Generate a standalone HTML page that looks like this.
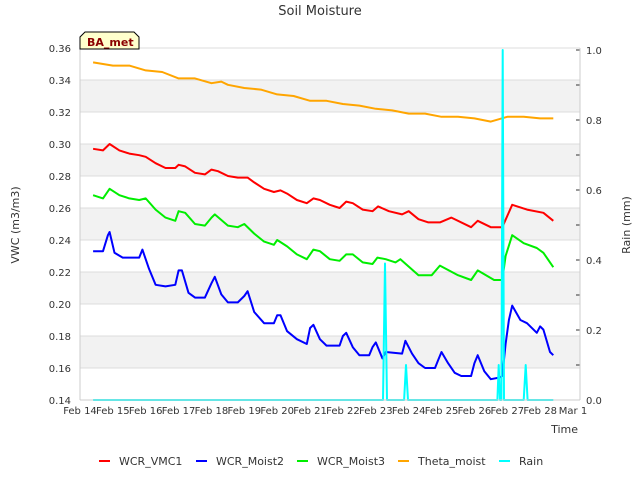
<!DOCTYPE html>
<html><head><meta charset="utf-8"><style>
body{margin:0;background:#fff;font-family:"DejaVu Sans","Liberation Sans",sans-serif;}
svg text{font-family:"DejaVu Sans","Liberation Sans",sans-serif;}
</style></head><body>
<svg id="chart" width="640" height="480" xmlns="http://www.w3.org/2000/svg">
<rect width="640" height="480" fill="#fff"/>
<g id="bands"></g><g id="grid"></g>
<g id="series"></g>
<g id="axes"></g>
<text x="320" y="15" text-anchor="middle" font-size="13" fill="#333">Soil Moisture</text>
<text transform="translate(19,225) rotate(-90)" text-anchor="middle" font-size="11" fill="#333">VWC (m3/m3)</text>
<text transform="translate(630,225) rotate(-90)" text-anchor="middle" font-size="11" fill="#333">Rain (mm)</text>
<text x="578" y="433" text-anchor="end" font-size="11" fill="#333">Time</text>
<g>
<path d="M80,49 L80,37 L85,32 L134,32 L139,37 L139,49 Z" fill="#ffffcc" stroke="#000" stroke-width="1"/>
<text x="87" y="46" font-size="11" font-weight="bold" fill="#8b0000">BA_met</text>
</g>
<g id="legend"></g>
</svg>
<script>
const NS="http://www.w3.org/2000/svg";
const xTickLabels=["Feb 14","Feb 15","Feb 16","Feb 17","Feb 18","Feb 19","Feb 20","Feb 21","Feb 22","Feb 23","Feb 24","Feb 25","Feb 26","Feb 27","Feb 28","Mar 1"];
const yTicks=[0.14,0.16,0.18,0.20,0.22,0.24,0.26,0.28,0.30,0.32,0.34,0.36];
const y2Ticks=[0,0.1,0.2,0.3,0.4,0.5,0.6,0.7,0.8,0.9,1.0];
const thetaT=[14.4,15,15.5,16,16.5,17,17.5,18,18.3,18.5,19,19.5,20,20.5,21,21.5,22,22.5,23,23.5,24,24.5,25,25.5,26,26.5,27,27.5,28,28.4];
const thetaV=[0.351,0.349,0.349,0.346,0.345,0.341,0.341,0.338,0.339,0.337,0.335,0.334,0.331,0.330,0.327,0.327,0.325,0.324,0.322,0.321,0.319,0.319,0.317,0.317,0.316,0.314,0.317,0.317,0.316,0.316];
const vmcT=[14.4,14.7,14.9,15.2,15.5,15.8,16,16.3,16.6,16.9,17.0,17.2,17.5,17.8,18.0,18.2,18.5,18.8,19.1,19.3,19.6,19.9,20.1,20.3,20.6,20.9,21.1,21.3,21.6,21.9,22.1,22.3,22.6,22.9,23.07,23.4,23.8,24.0,24.3,24.6,24.95,25.3,25.9,26.1,26.5,26.85,27.15,27.6,28.1,28.4];
const vmcV=[0.297,0.296,0.300,0.296,0.294,0.293,0.292,0.288,0.285,0.285,0.287,0.286,0.282,0.281,0.284,0.283,0.280,0.279,0.279,0.276,0.272,0.270,0.271,0.269,0.265,0.263,0.266,0.265,0.262,0.260,0.264,0.263,0.259,0.258,0.261,0.258,0.256,0.258,0.253,0.251,0.251,0.254,0.248,0.252,0.248,0.248,0.262,0.259,0.257,0.252];
const m3T=[14.4,14.7,14.9,15.2,15.5,15.8,16.0,16.3,16.6,16.9,17.0,17.2,17.5,17.8,18.0,18.1,18.5,18.8,19.0,19.3,19.6,19.9,20.0,20.3,20.6,20.9,21.1,21.3,21.6,21.9,22.1,22.3,22.6,22.9,23.05,23.3,23.6,23.75,24.3,24.7,24.95,25.5,25.9,26.1,26.6,26.85,26.95,27.15,27.5,27.9,28.1,28.4];
const m3V=[0.268,0.266,0.272,0.268,0.266,0.265,0.266,0.259,0.254,0.252,0.258,0.257,0.250,0.249,0.254,0.256,0.249,0.248,0.250,0.244,0.239,0.237,0.240,0.236,0.231,0.228,0.234,0.233,0.228,0.227,0.231,0.231,0.226,0.225,0.229,0.228,0.226,0.228,0.218,0.218,0.224,0.218,0.215,0.221,0.215,0.215,0.230,0.243,0.238,0.235,0.232,0.223];
const m2T=[14.4,14.7,14.85,14.9,15.05,15.3,15.6,15.8,15.9,16.1,16.3,16.6,16.9,17.0,17.1,17.3,17.5,17.8,18.0,18.1,18.3,18.5,18.8,19.0,19.1,19.3,19.6,19.9,20.0,20.1,20.3,20.6,20.9,21.0,21.1,21.3,21.5,21.9,22.0,22.1,22.3,22.5,22.8,22.9,23.0,23.2,23.3,23.8,23.9,24.1,24.3,24.5,24.8,24.9,25.0,25.2,25.4,25.6,25.9,26.0,26.1,26.3,26.5,26.75,26.85,26.95,27.05,27.15,27.4,27.6,27.9,28.0,28.1,28.3,28.4];
const m2V=[0.233,0.233,0.243,0.245,0.232,0.229,0.229,0.229,0.234,0.222,0.212,0.211,0.212,0.221,0.221,0.207,0.204,0.204,0.213,0.217,0.206,0.201,0.201,0.205,0.208,0.195,0.188,0.188,0.193,0.193,0.183,0.178,0.175,0.185,0.187,0.178,0.174,0.174,0.180,0.182,0.173,0.168,0.168,0.173,0.176,0.166,0.170,0.169,0.177,0.169,0.163,0.160,0.160,0.165,0.170,0.163,0.157,0.155,0.155,0.163,0.168,0.158,0.153,0.154,0.155,0.175,0.190,0.199,0.190,0.188,0.182,0.186,0.184,0.170,0.168];
const rainT=[14.4,23.22,23.28,23.34,23.86,23.92,23.98,26.70,26.74,26.78,26.82,26.86,26.90,26.94,27.50,27.56,27.62,28.4];
const rainV=[0,0,0.39,0,0,0.1,0,0,0.1,0,0,1.0,0,0,0,0.1,0,0];

const L=80,R=580,T=48,B=400;
const X=d=>L+(d-14)*(493/15);
const Y=v=>B-(v-0.14)*(B-T)/0.22;
const Y2=v=>B-v*(B-50);
const $=id=>document.getElementById(id);
function mk(tag,attrs,parent){const e=document.createElementNS(NS,tag);for(const k in attrs)e.setAttribute(k,attrs[k]);parent.appendChild(e);return e;}
// bands & grid
for(let i=0;i<yTicks.length-1;i++){
  if(i%2===1){const r=mk('rect',{x:L,y:Y(yTicks[i+1]),width:R-L,height:Y(yTicks[i])-Y(yTicks[i+1]),fill:'#f2f2f2'},$('bands'));
  
  }
}
yTicks.forEach(v=>{const l=mk('line',{x1:L,x2:R,y1:Y(v),y2:Y(v),stroke:'#dcdcdc','stroke-width':1},$('grid'));


const t=mk('text',{x:L-9,y:Y(v)+4,'text-anchor':'end','font-size':10,fill:'#333'},$('axes'));t.textContent=v.toFixed(2);

});
y2Ticks.forEach((v,i)=>{mk('line',{x1:R,x2:R-4,y1:Y2(v),y2:Y2(v),stroke:'#333'},$('axes'));
if(i%2===0){const t=mk('text',{x:R+6,y:Y2(v)+4,'font-size':10,fill:'#333'},$('axes'));t.textContent=v.toFixed(1);

}});
xTickLabels.forEach((s,i)=>{const t=mk('text',{x:X(14+i),y:414,'text-anchor':'middle','font-size':10,fill:'#333'},$('axes'));t.textContent=s;

});
mk('line',{x1:L,x2:L,y1:T,y2:B,stroke:'#ccc'},$('axes'));
mk('line',{x1:R,x2:R,y1:T,y2:B,stroke:'#ccc'},$('axes'));
mk('line',{x1:L,x2:R,y1:B,y2:B,stroke:'#ccc'},$('axes'));
function line(ts,vs,yf,color,name,w){
  const p=mk('polyline',{points:ts.map((t,i)=>X(t).toFixed(1)+','+yf(vs[i]).toFixed(1)).join(' '),fill:'none',stroke:color,'stroke-width':w,'stroke-linejoin':'round'},$('series'));
  
  
}
line(thetaT,thetaV,Y,'#ffa500','theta-moist-line',2);
line(vmcT,vmcV,Y,'#ff0000','wcr-vmc1-line',2);
line(m3T,m3V,Y,'#00ee00','wcr-moist3-line',2);
line(m2T,m2V,Y,'#0000ff','wcr-moist2-line',2);
line(rainT,rainV,Y2,'#00ffff','rain-line',2);
const leg=[['WCR_VMC1','#ff0000',99],['WCR_Moist2','#0000ff',196],['WCR_Moist3','#00ee00',297],['Theta_moist','#ffa500',398],['Rain','#00ffff',499]];
leg.forEach(([n,c,x])=>{
  const g=mk('g',{},$('legend'));
  
  
  mk('line',{x1:x,x2:x+11,y1:461,y2:461,stroke:c,'stroke-width':2},g);
  const t=mk('text',{x:x+20,y:465,'font-size':11,fill:'#333'},g);t.textContent=n;
});
</script>
</body></html>
